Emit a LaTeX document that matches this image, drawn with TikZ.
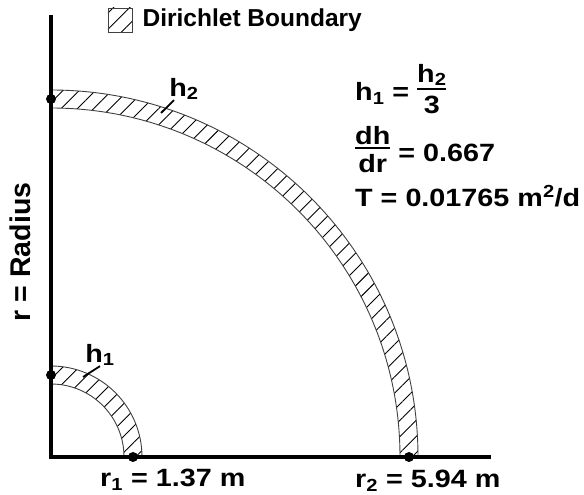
\documentclass[tikz,border=0pt]{standalone}
\usepackage{amsmath}
\usepackage{fontspec}
\setmainfont{Liberation Sans}
\newfontfamily\widesf{Liberation Sans}[FakeStretch=1.15]
\usetikzlibrary{patterns.meta,positioning}
\newcommand{\numfrac}[2]{\raisebox{6pt}{$\vcenter{\offinterlineskip\halign{\hfil##\hfil\cr #1\cr\noalign{\kern2pt\hrule height 1.8pt\kern6pt}#2\cr}}$}}

\begin{document}
\begin{tikzpicture}[
    x=1pt,y=1pt,
    lbl/.style={font=\widesf\bfseries\fontsize{25}{30}\selectfont,inner sep=0pt},
    leglbl/.style={font=\bfseries\fontsize{24.5}{30}\selectfont,inner sep=0pt},
    axlbl/.style={font=\bfseries\fontsize{28.5}{34}\selectfont,inner sep=0pt},
    axis/.style={line width=4pt,line join=miter},
    band/.style={draw=black!75,line width=0.9pt,pattern={Lines[angle=45,distance=11.5pt,line width=0.9pt]}},
    dot/.style={circle,fill=black,inner sep=0pt,minimum size=10pt},
    leader/.style={line width=1.8pt}
]
    \useasboundingbox (-51,-38) rectangle (533,457);

    \coordinate (O) at (0,0);
    \coordinate (ytop) at (0,442);
    \coordinate (xend) at (440,0);

    \draw[band] (349,0) arc[start angle=0,end angle=90,radius=349pt] -- (0,367) arc[start angle=90,end angle=0,radius=367pt] -- cycle;
    \draw[band] (73,0) arc[start angle=0,end angle=90,radius=73pt] -- (0,91) arc[start angle=90,end angle=0,radius=91pt] -- cycle;

    \draw[axis] (ytop) -- (O) -- (xend);

    \node[dot] (d2y) at (0,358) {};
    \node[dot] (d2x) at (358,0) {};
    \node[dot] (d1y) at (0,82) {};
    \node[dot] (d1x) at (82,0) {};

    \node[band,minimum size=24pt,inner sep=0pt] (legbox) at (69,437) {};
    \node[leglbl,right=10pt of legbox] (legtxt) {Dirichlet Boundary};

    \node[lbl] (h2lbl) at (133,368) {h\textsubscript{2}};
    \node[lbl] (h1lbl) at (49,102) {h\textsubscript{1}};
    \coordinate (h2pt) at (110,344);
    \coordinate (h1pt) at (32,80);
    \draw[leader] ([xshift=-10pt]h2lbl.south) -- (h2pt);
    \draw[leader] (h1lbl.south) -- (h1pt);

    \node[lbl,anchor=base west] (eqh) at (304,356) {h\textsubscript{1} = \numfrac{h\textsubscript{2}}{3}};
    \node[lbl,anchor=base west] (eqg) at (304,295) {\numfrac{dh}{dr} = 0.667};
    \node[lbl,anchor=base west] (eqt) at (304,250) {T = 0.01765 m\textsuperscript{2}/d};

    \node[lbl,anchor=base west] (r1lbl) at (49,-30) {r\textsubscript{1} = 1.37 m};
    \node[lbl,anchor=base west] (r2lbl) at (304,-31) {r\textsubscript{2} = 5.94 m};
    \node[axlbl,rotate=90] (ylbl) at (-31,205) {r = Radius};
\end{tikzpicture}
\end{document}
